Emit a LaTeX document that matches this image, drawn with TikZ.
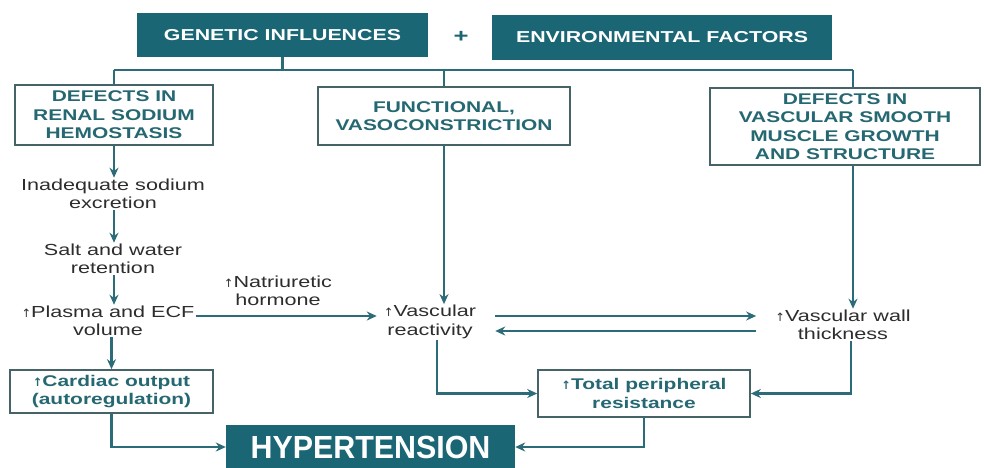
\documentclass[tikz,border=0pt]{standalone}
\usepackage{fontspec}
\setmainfont{Liberation Sans}[FakeStretch=1.35]
\newfontfamily\htfont{Liberation Sans}[FakeStretch=0.95]
\newfontfamily\symfont{DejaVu Sans}
\usetikzlibrary{arrows.meta}
\definecolor{tealfill}{RGB}{26,102,116}
\definecolor{tealline}{RGB}{44,108,120}
\definecolor{tealtext}{RGB}{38,104,114}
\definecolor{boxline}{RGB}{70,100,104}
\definecolor{txt}{RGB}{45,45,45}
\newcommand\upar{{\symfont\fontsize{11.5}{11.5}\selectfont ↑}}
\begin{document}
\begin{tikzpicture}[x=1pt,y=-1pt,
 hdr/.style={fill=tealfill, text=white, font=\fontsize{15.8}{18}\selectfont\bfseries, inner sep=0pt, align=center},
 obox/.style={draw=boxline, line width=1.6pt, text=tealtext, font=\fontsize{15.5}{18.5}\selectfont\bfseries, inner sep=0pt, align=center},
 plain/.style={text=txt, font=\fontsize{16}{18.5}\selectfont, inner sep=1pt, align=center},
 conn/.style={draw=tealline, line width=2.4pt},
 arr/.style={conn, -{Stealth[length=10pt,width=9pt]}},
]
\useasboundingbox (0,0) rectangle (984,467);
% headers
\node[hdr, minimum width=291, minimum height=44] (gen) at (282.5,35) {GENETIC INFLUENCES};
\node[text=tealfill, font=\fontsize{19}{19}\selectfont\bfseries] (plus) at (461,37) {+};
\node[hdr, minimum width=340, minimum height=45] (env) at (662,37.5) {ENVIRONMENTAL FACTORS};
% second row boxes
\node[obox, minimum width=198, minimum height=60] (renal) at (114,115) {DEFECTS IN\\RENAL SODIUM\\HEMOSTASIS};
\node[obox, minimum width=252, minimum height=58] (func) at (444,116) {FUNCTIONAL,\\VASOCONSTRICTION};
\node[obox, minimum width=270, minimum height=77] (vsm) at (845,126.5) {DEFECTS IN\\VASCULAR SMOOTH\\MUSCLE GROWTH\\AND STRUCTURE};
\coordinate (busL) at (114,70);
\coordinate (busR) at (853,70);
% chain
\node[plain] (inad) at (113,194) {Inadequate sodium\\excretion};
\node[plain] (salt) at (113,259) {Salt and water\\retention};
\node[plain] (plasma) at (108,321) {\upar Plasma and ECF\\volume};
\node[plain] (natr) at (278,291) {\upar Natriuretic\\hormone};
\node[plain] (react) at (430,322) {\upar Vascular\\reactivity};
\node[plain] (wall) at (843,325) {\upar Vascular wall\\thickness};
\node[obox, minimum width=203, minimum height=43] (card) at (111.5,391.5) {\upar Cardiac output\\(autoregulation)};
\node[obox, minimum width=212, minimum height=47] (tpr) at (644,393.5) {\upar Total peripheral\\resistance};
\node[hdr, minimum width=289, minimum height=44, font=\htfont\bfseries\fontsize{32}{32}\selectfont] (ht) at (370.5,447) {HYPERTENSION};
% bus
\draw[conn] (gen.south) -- (gen.south |- busL);
\draw[conn] (busL) -- (busR);
\draw[conn] (busL) -- (renal.north);
\draw[conn] (func.north |- busL) -- (func.north);
\draw[conn] (busR) -- (busR |- vsm.north);
% arrows
\draw[arr] (renal.south) -- (renal.south |- inad.north);
\draw[arr] (inad.south -| renal.south) -- (renal.south |- salt.north);
\draw[arr] (salt.south -| renal.south) -- (renal.south |- plasma.north);
\draw[arr] (plasma.south -| card.north) -- (card.north);
\draw[arr] (card.south) |- (ht.west);
\draw[arr] ([yshift=5pt]plasma.east) -- ([xshift=-6pt,yshift=5pt]plasma.east -| react.west);
\draw[arr] (func.south) -- (func.south |- react.north);
\draw[arr] (vsm.south -| busR) -- (busR |- wall.north);
\draw[arr] ([xshift=18pt,yshift=6pt]react.east) -- ([xshift=-18pt,yshift=6pt]react.east -| wall.west);
\draw[arr] ([xshift=-18pt,yshift=-9pt]react.east -| wall.west) -- ([xshift=18pt,yshift=-9pt]react.east);
\draw[arr] ([xshift=7pt]react.south) |- (tpr.west);
\draw[arr] ([xshift=8pt]wall.south) |- (tpr.east);
\draw[arr] (tpr.south) |- (ht.east);
\end{tikzpicture}
\end{document}
